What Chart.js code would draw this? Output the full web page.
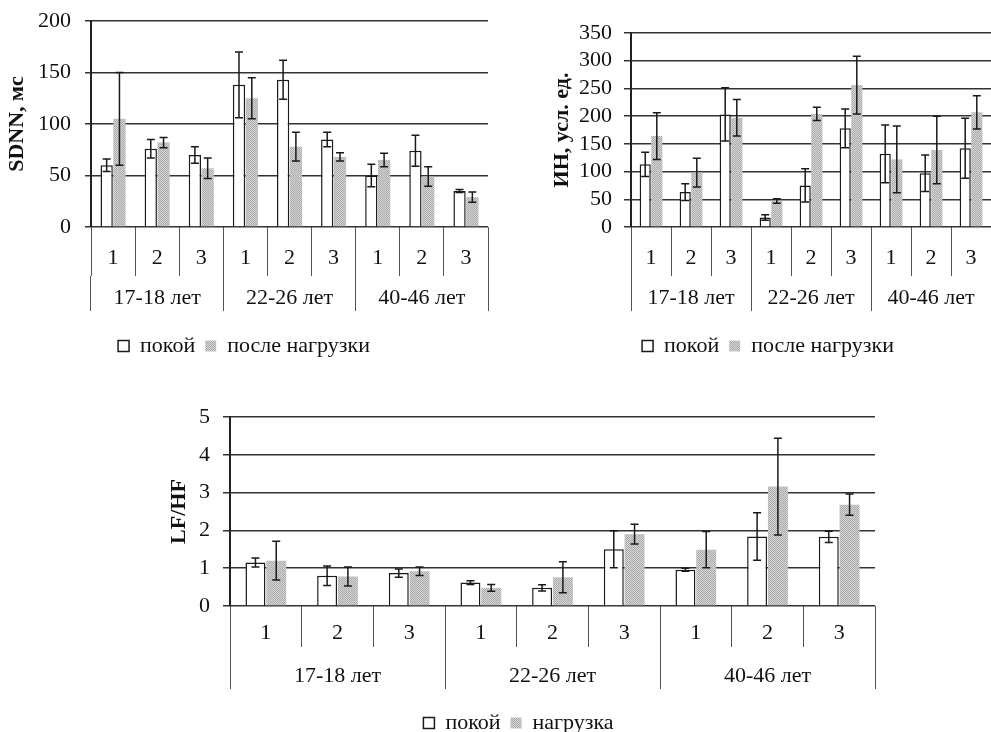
<!DOCTYPE html>
<html>
<head>
<meta charset="utf-8">
<script src="https://cdn.jsdelivr.net/npm/chart.js@4"></script>
<style>
html, body { margin: 0; padding: 0; background: #fff; overflow: hidden; width: 991px; height: 732px; }
canvas { position: absolute; }
#sdnn { left: 0; top: 0; }
#ih { left: 545px; top: 0; }
#lfhf { left: 162px; top: 392px; }
</style>
</head>
<body>
<canvas id="sdnn" width="490" height="367"></canvas>
<canvas id="ih" width="446" height="367"></canvas>
<canvas id="lfhf" width="718" height="352"></canvas>
<script>
// подписи осей
var categories = ['1', '2', '3', '1', '2', '3', '1', '2', '3'];
var groups = ['17-18 лет', '22-26 лет', '40-46 лет'];

// SDNN, мс
var sdnnRest = [60, 76, 70, 138, 143, 85, 50, 74, 35];
var sdnnRestErr = [6, 9, 8, 32, 19, 7, 11, 15, 1.5];
var sdnnLoad = [105, 82, 57, 125, 78, 68, 65, 49, 29];
var sdnnLoadErr = [45, 5, 10, 20, 14, 4, 6.5, 9.5, 5];

// ИН, усл. ед.
var ihRest = [113, 63, 203, 17, 75, 178, 132, 97, 142];
var ihRestErr = [22, 15, 48, 5, 30, 35, 52, 33, 54];
var ihLoad = [164, 98, 197, 47, 204, 256, 122, 139, 207];
var ihLoadErr = [42, 26, 33, 4, 12, 52, 60, 61, 30];

// LF/HF
var lfRest = [1.15, 0.8, 0.87, 0.62, 0.48, 1.5, 0.96, 1.84, 1.83];
var lfRestErr = [0.12, 0.26, 0.11, 0.05, 0.08, 0.49, 0.04, 0.63, 0.15];
var lfLoad = [1.2, 0.78, 0.92, 0.48, 0.76, 1.9, 1.49, 3.16, 2.68];
var lfLoadErr = [0.51, 0.25, 0.11, 0.09, 0.41, 0.26, 0.48, 1.28, 0.28];

Chart.defaults.font.family = "'Liberation Serif', 'Times New Roman', serif";
Chart.defaults.font.size = 22;
Chart.defaults.color = '#111';
Chart.defaults.animation = false;

// серая точечная заливка
var dots = document.createElement('canvas');
dots.width = 2; dots.height = 2;
var g = dots.getContext('2d');
g.fillStyle = '#d6d6d6'; g.fillRect(0, 0, 2, 2);
g.fillStyle = '#aaaaaa'; g.fillRect(0, 0, 1, 1); g.fillRect(1, 1, 1, 1);

// планки погрешностей
var errorBars = {
    id: 'errorBars',
    afterDatasetsDraw: function(chart) {
        var ctx = chart.ctx;
        var y = chart.scales.y;
        ctx.save();
        ctx.strokeStyle = '#1a1a1a';
        ctx.lineWidth = 1.5;
        chart.data.datasets.forEach(function(ds, i) {
            chart.getDatasetMeta(i).data.forEach(function(bar, j) {
                var top = y.getPixelForValue(ds.data[j] + ds.errors[j]);
                var bot = y.getPixelForValue(ds.data[j] - ds.errors[j]);
                ctx.beginPath();
                ctx.moveTo(bar.x, top); ctx.lineTo(bar.x, bot);
                ctx.moveTo(bar.x - 4, top); ctx.lineTo(bar.x + 4, top);
                ctx.moveTo(bar.x - 4, bot); ctx.lineTo(bar.x + 4, bot);
                ctx.stroke();
            });
        });
        ctx.restore();
    }
};

function drawChart(id, o) {
    var ctx = document.getElementById(id).getContext('2d');
    var pattern = ctx.createPattern(dots, 'repeat');
    return new Chart(ctx, {
        type: 'bar',
        data: {
            labels: categories,
            datasets: [{
                label: o.names[0],
                data: o.rest,
                errors: o.restErr,
                backgroundColor: '#ffffff',
                borderColor: '#1a1a1a',
                borderWidth: 1.5
            }, {
                label: o.names[1],
                data: o.load,
                errors: o.loadErr,
                backgroundColor: pattern,
                borderWidth: 0
            }]
        },
        options: {
            responsive: false,
            layout: { padding: { top: o.padTop, right: o.padRight, left: 0, bottom: 0 } },
            datasets: { bar: { categoryPercentage: 0.58, barPercentage: 0.96 } },
            plugins: {
                legend: {
                    position: 'bottom',
                    labels: { boxWidth: 11, boxHeight: 11, padding: 10, color: '#111' }
                },
                tooltip: { enabled: false }
            },
            scales: {
                x: {
                    offset: true,
                    grid: { offset: true, drawOnChartArea: false, tickLength: o.tick1, color: '#555', lineWidth: 1 },
                    border: { display: false },
                    ticks: { padding: o.pad1, autoSkip: false, maxRotation: 0 },
                    afterFit: function(s) { s.height = o.tick1; }
                },
                x2: {
                    type: 'category',
                    position: 'bottom',
                    labels: groups,
                    offset: true,
                    grid: { offset: true, drawOnChartArea: false, tickLength: o.tick2, color: '#555', lineWidth: 1 },
                    border: { display: false },
                    ticks: { padding: o.pad2, autoSkip: false, maxRotation: 0 },
                    afterFit: function(s) { s.height = o.h2; }
                },
                y: {
                    min: 0,
                    max: o.max,
                    ticks: { stepSize: o.step, padding: o.ypad, autoSkip: false, font: { lineHeight: 0.5 } },
                    grid: { color: '#333', lineWidth: 1.5, tickLength: o.ytick },
                    border: { color: '#222', width: 2 },
                    title: { display: true, text: o.title, font: { weight: 'bold', size: 22 }, color: '#111' },
                    afterFit: function(s) { s.width = o.yWidth; }
                }
            }
        },
        plugins: [errorBars]
    });
}

drawChart('sdnn', {
    names: ['покой', 'после нагрузки'],
    rest: sdnnRest, restErr: sdnnRestErr, load: sdnnLoad, loadErr: sdnnLoadErr,
    title: 'SDNN, мс', max: 200, step: 50,
    padTop: 21, padRight: 2, yWidth: 91, ytick: 6, ypad: 14,
    tick1: 49, pad1: -31, tick2: 35, pad2: -26, h2: 49
});

drawChart('ih', {
    names: ['покой', 'после нагрузки'],
    rest: ihRest, restErr: ihRestErr, load: ihLoad, loadErr: ihLoadErr,
    title: 'ИН, усл. ед.', max: 350, step: 50,
    padTop: 33, padRight: 0, yWidth: 86, ytick: 7, ypad: 12,
    tick1: 49, pad1: -31, tick2: 35, pad2: -26, h2: 49
});

drawChart('lfhf', {
    names: ['покой', 'нагрузка'],
    rest: lfRest, restErr: lfRestErr, load: lfLoad, loadErr: lfLoadErr,
    title: 'LF/HF', max: 5, step: 1,
    padTop: 25, padRight: 5, yWidth: 68, ytick: 7, ypad: 13,
    tick1: 41, pad1: -27, tick2: 42, pad2: -26, h2: 55
});
</script>
</body>
</html>
